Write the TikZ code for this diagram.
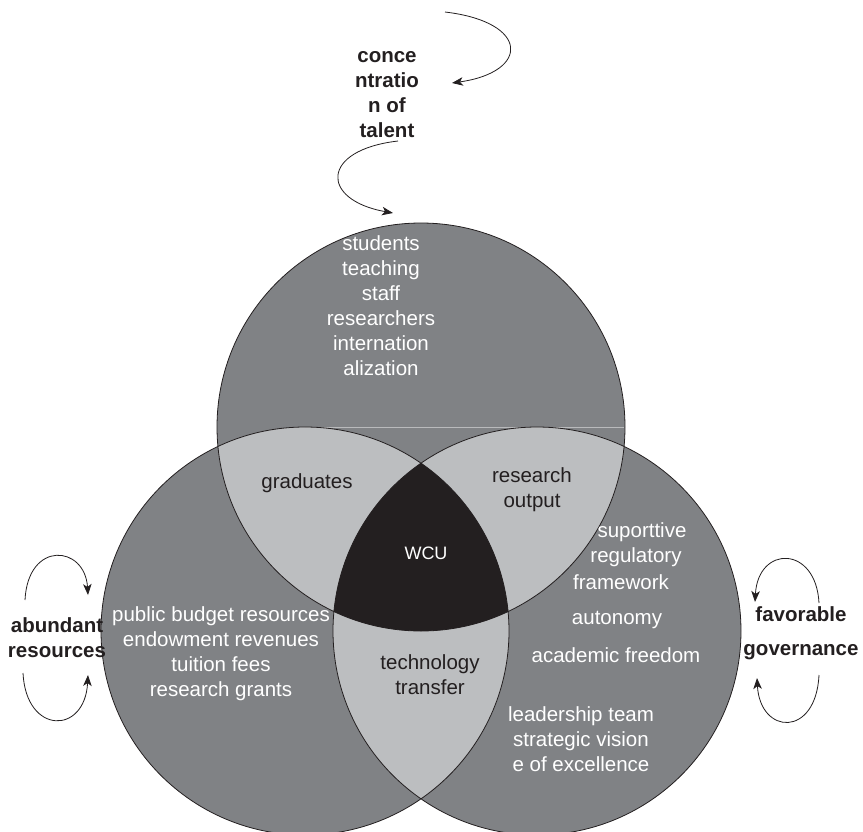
\documentclass[tikz,border=0pt]{standalone}
\usepackage{fontspec}
\setmainfont{Liberation Sans}
\usetikzlibrary{arrows.meta}
\definecolor{ringgray}{RGB}{128,130,133}
\definecolor{lensgray}{RGB}{188,190,192}
\definecolor{coregray}{RGB}{35,31,32}
\tikzset{
  lbl/.style={font=\fontsize{20.5}{25}\selectfont,align=center,inner sep=0pt},
  wlbl/.style={lbl,text=white},
  dlbl/.style={lbl,text=coregray},
  blbl/.style={lbl,font=\fontsize{20.5}{25}\selectfont\bfseries,text=coregray},
  flow/.style={-{Stealth[length=11pt,width=8.5pt,inset=3pt]},line width=0.8pt,coregray},
  ring/.style={line width=0.8pt,coregray},
}

\begin{document}
\begin{tikzpicture}[x=1pt,y=-1pt]
\useasboundingbox (0,0) rectangle (863,831);
% circle centres
\coordinate (talent) at (421,427);
\coordinate (resources) at (305,631);
\coordinate (governance) at (537,631);

% fills
\fill[ringgray] (talent) circle[radius=204pt] (resources) circle[radius=204pt] (governance) circle[radius=204pt];
\begin{scope}
  \clip (talent) circle[radius=204pt];
  \fill[lensgray] (resources) circle[radius=204pt] (governance) circle[radius=204pt];
\end{scope}
\begin{scope}
  \clip (resources) circle[radius=204pt];
  \fill[lensgray] (governance) circle[radius=204pt];
\end{scope}
\begin{scope}
  \clip (talent) circle[radius=204pt];
  \clip (resources) circle[radius=204pt];
  \fill[coregray] (governance) circle[radius=204pt];
\end{scope}
\draw[white!45!ringgray,line width=0.5pt] (305,427) -- (624,427);
\draw[ring] (talent) circle[radius=204pt] (resources) circle[radius=204pt] (governance) circle[radius=204pt];

% labels inside
\node[wlbl] (talentlist) at (381,305.5) {students\\teaching\\staff\\researchers\\internation\\alization};
\node[dlbl] (graduates) at (307,483) {graduates};
\node[dlbl] (output) at (532,490) {research\\output};
\node[wlbl,font=\fontsize{18}{22}\selectfont] (wcu) at (426,553) {WCU};
\node[dlbl] (transfer) at (430,675) {technology\\transfer};
\node[wlbl] (budget) at (221,654) {public budget resources\\endowment revenues\\tuition fees\\research grants};
\node[wlbl] (sup) at (642,532) {suporttive};
\node[wlbl] (regul) at (636,557) {regulatory};
\node[wlbl] (frame) at (621,582) {framework};
\node[wlbl] (auton) at (617,620) {autonomy};
\node[wlbl] (freedom) at (616,655) {academic freedom};
\node[wlbl] (leader) at (581,739) {leadership team\\strategic vision\\e of excellence};

% outer labels
\node[blbl] (talentlbl) at (387,94.5) {conce\\ntratio\\n of\\talent};
\node[blbl] (reslbl) at (57,637.5) {abundant\\resources};
\node[blbl,font=\fontsize{20.5}{34}\selectfont\bfseries] (govlbl) at (801,633) {favorable\\governance};

% curved arrows
\coordinate (ta) at (445,12);   \coordinate (tb) at (452,83);
\coordinate (tc) at (398,141);  \coordinate (td) at (393,213);
\coordinate (ra) at (25,600);   \coordinate (rb) at (88,595);
\coordinate (rc) at (23,673);   \coordinate (rd) at (88,675);
\coordinate (ga) at (819,603);  \coordinate (gb) at (755,602);
\coordinate (gc) at (819,675);  \coordinate (gd) at (757,678);
\draw[flow] (ta) .. controls (530,22) and (530,72) .. (tb);
\draw[flow] (tc) .. controls (320,150) and (320,200) .. (td);
\draw[flow] (ra) .. controls (28,540) and (85,545) .. (rb);
\draw[flow] (rc) .. controls (26,735) and (85,735) .. (rd);
\draw[flow] (ga) .. controls (816,545) and (758,545) .. (gb);
\draw[flow] (gc) .. controls (816,738) and (760,735) .. (gd);
\end{tikzpicture}
\end{document}
